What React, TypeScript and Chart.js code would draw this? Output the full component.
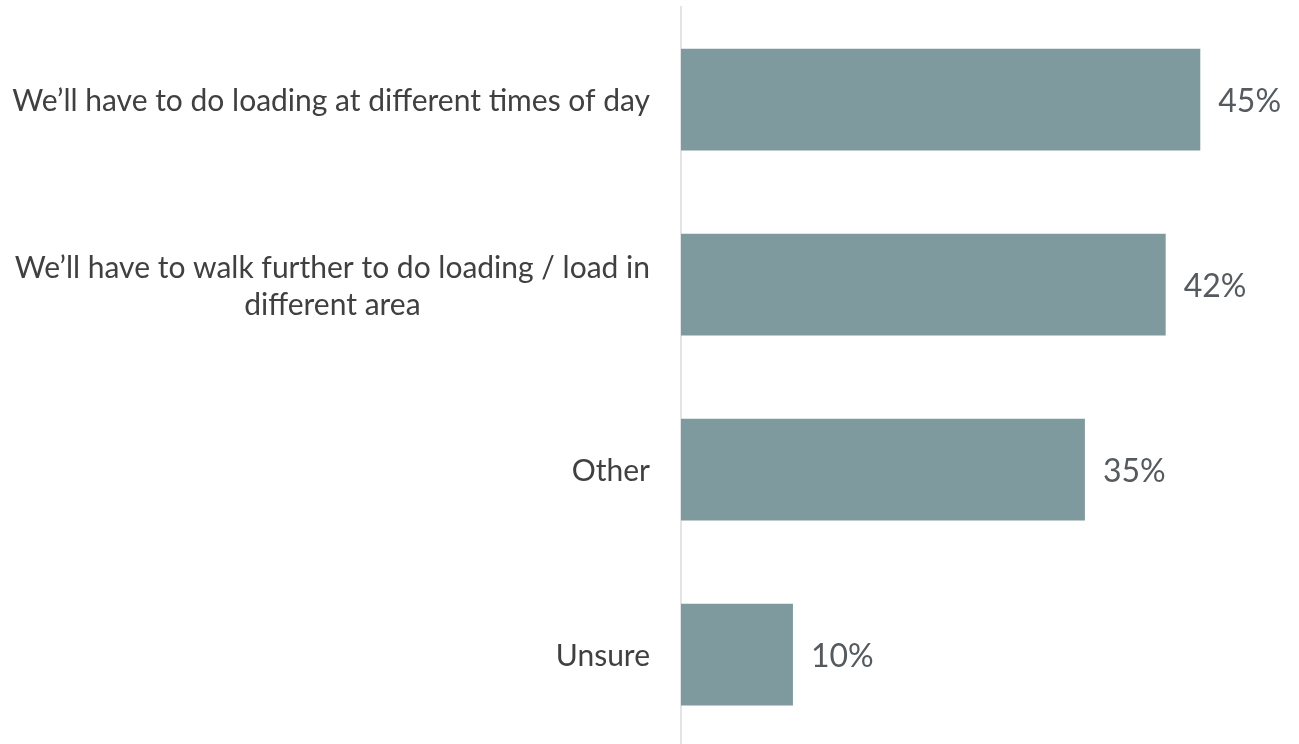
import React, { useEffect, useRef } from "react";
import { Chart, registerables } from "chart.js";

Chart.register(...registerables);

const categories: string[][] = [
  ["We’ll have to do loading at different times of day"],
  ["We’ll have to walk further to do loading / load in", "different area"],
  ["Other"],
  ["Unsure"],
];
const values: number[] = [45, 42, 35, 9.7];
const valueLabels: string[] = ["45%", "42%", "35%", "10%"];

const FONT = "Lato, 'Open Sans', sans-serif";

const labelPlugin = {
  id: "customLabels",
  afterDatasetsDraw(chart: any) {
    const ctx = chart.ctx;
    const meta = chart.getDatasetMeta(0);
    const yScale = chart.scales.y;
    ctx.save();
    // value labels
    ctx.font = `32px ${FONT}`;
    ctx.fillStyle = "#555a5f";
    ctx.textAlign = "left";
    ctx.textBaseline = "middle";
    meta.data.forEach((bar: any, i: number) => {
      ctx.fillText(valueLabels[i], bar.x + 18, bar.y + 2);
    });
    // category labels
    ctx.font = `30px ${FONT}`;
    ctx.fillStyle = "#404040";
    const rightX = chart.chartArea.left - 31;
    const lineH = 37;
    categories.forEach((lines, i) => {
      const cy = yScale.getPixelForValue(i) + 2;
      const w = Math.max(...lines.map((l) => ctx.measureText(l).width));
      const cx = rightX - w / 2;
      ctx.textAlign = "center";
      const startY = cy - ((lines.length - 1) * lineH) / 2;
      lines.forEach((l, j) => ctx.fillText(l, cx, startY + j * lineH));
    });
    ctx.restore();
  },
};

export default function App() {
  const ref = useRef<HTMLCanvasElement | null>(null);
  useEffect(() => {
    if (!ref.current) return;
    const chart = new Chart(ref.current, {
      type: "bar",
      data: {
        labels: categories.map((c) => c.join(" ")),
        datasets: [
          {
            data: values,
            backgroundColor: "#7f9a9e",
            borderWidth: 0,
            barPercentage: 0.55,
            categoryPercentage: 1,
          },
        ],
      },
      options: {
        indexAxis: "y",
        animation: false,
        responsive: false,
        layout: { padding: { top: 7, bottom: 0, right: 41, left: 0 } },
        plugins: { legend: { display: false }, tooltip: { enabled: false } },
        scales: {
          x: { display: false, min: 0, max: 50 },
          y: {
            type: "category",
            offset: true,
            grid: { display: false, drawTicks: false },
            border: { display: true, color: "#e4e4e7", width: 2 },
            ticks: { display: false },
            afterFit(scale: any) {
              scale.width = 681;
            },
          },
        },
      },
      plugins: [labelPlugin],
    });
    return () => chart.destroy();
  }, []);
  return (
    <div
      style={{
        position: "absolute",
        left: 0,
        top: 0,
        width: 1299,
        height: 744,
        overflow: "hidden",
      }}
    >
      <canvas ref={ref} width={1299} height={747} style={{ display: "block" }} />
    </div>
  );
}
